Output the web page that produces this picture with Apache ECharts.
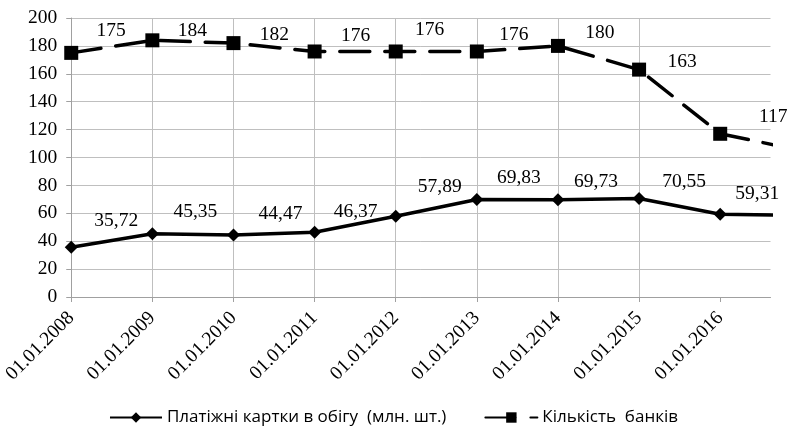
<!DOCTYPE html>
<html><head><meta charset="utf-8">
<script src="https://cdn.jsdelivr.net/npm/echarts@6/dist/echarts.min.js"></script>
<style>html,body{margin:0;padding:0;background:#fff}#c{width:787px;height:427px}</style>
</head><body><div id="c"></div>
<script>
// ---- data ----
const categories = ['01.01.2008','01.01.2009','01.01.2010','01.01.2011','01.01.2012','01.01.2013','01.01.2014','01.01.2015','01.01.2016'];
const cardsValues = [35.72, 45.35, 44.47, 46.37, 57.89, 69.83, 69.73, 70.55, 59.31];
const banksValues = [175, 184, 182, 176, 176, 176, 180, 163, 117];
// next (unlabelled) point, cut off by the plot edge
const cardsNext = 58.5;
const banksNext = 105;
const yTicks = [0, 20, 40, 60, 80, 100, 120, 140, 160, 180, 200];
const seriesNames = ['Платіжні картки в обігу  (млн. шт.)', 'Кількість  банків'];

// ---- styling ----
const cardsLabelOffsets = [[45,-26],[43,-22],[47,-21],[41,-20],[44,-29],[42,-22],[38,-18],[45,-17],[37,-20]];
const banksLabelOffsets = [[40,-22],[40,-9],[41,-8],[41,-16],[34,-22],[37,-17],[42,-13],[43,-8],[53,-17]];
const serif = 'Liberation Serif';
const gridColor = '#BFBFBF';
const axisColor = '#A0A0A0';

function buildData(values, next, offsets, fmt) {
  const d = values.map((v, i) => ({
    value: [i, v],
    label: { show: true, position: 'inside', offset: offsets[i], formatter: () => fmt(v) }
  }));
  d.push({ value: [values.length, next], label: { show: false } });
  return d;
}
const tickIdx = categories.map((c, i) => i);

const chart = echarts.init(document.getElementById('c'), null, { renderer: 'canvas' });
chart.setOption({
  animation: false,
  backgroundColor: '#fff',
  grid: { left: 67, top: 18, right: 16.5, bottom: 130, containLabel: false },
  xAxis: {
    type: 'value', min: 0, max: 8.62, interval: 1,
    axisLine: { show: true, lineStyle: { color: axisColor, width: 1 } },
    axisTick: { show: true, length: 5, customValues: tickIdx, lineStyle: { color: axisColor } },
    axisLabel: {
      customValues: tickIdx, rotate: 45, margin: 18,
      formatter: v => categories[Math.round(v)] || '',
      fontFamily: serif, fontSize: 19.5, color: '#000'
    },
    splitLine: { show: true, showMaxLine: false, lineStyle: { color: gridColor, width: 1 } }
  },
  yAxis: {
    type: 'value', min: yTicks[0], max: yTicks[yTicks.length - 1], interval: yTicks[1] - yTicks[0],
    axisLine: { show: true, lineStyle: { color: axisColor, width: 1 } },
    axisTick: { show: true, length: 5, lineStyle: { color: axisColor } },
    axisLabel: { margin: 14, fontFamily: serif, fontSize: 19.5, color: '#000' },
    splitLine: { show: true, lineStyle: { color: gridColor, width: 1 } }
  },
  legend: {
    left: 'center', top: 404,
    itemWidth: 52, itemHeight: 13, itemGap: 38,
    textStyle: { fontFamily: 'Open Sans', fontSize: 17, color: '#000' },
    data: seriesNames
  },
  series: [
    {
      name: seriesNames[0], type: 'line', clip: true,
      data: buildData(cardsValues, cardsNext, cardsLabelOffsets, v => v.toFixed(2).replace('.', ',')),
      symbol: 'diamond', symbolSize: 13,
      itemStyle: { color: '#000' },
      lineStyle: { color: '#000', width: 3.5, join: 'round' },
      label: { fontFamily: serif, fontSize: 19.5, color: '#000' }
    },
    {
      name: seriesNames[1], type: 'line', clip: true,
      data: buildData(banksValues, banksNext, banksLabelOffsets, v => String(v)),
      symbol: 'rect', symbolSize: 14,
      itemStyle: { color: '#000' },
      lineStyle: { color: '#000', width: 3.5, type: [30, 15], cap: 'round' },
      label: { fontFamily: serif, fontSize: 19.5, color: '#000' }
    }
  ]
});
</script>
</body></html>
